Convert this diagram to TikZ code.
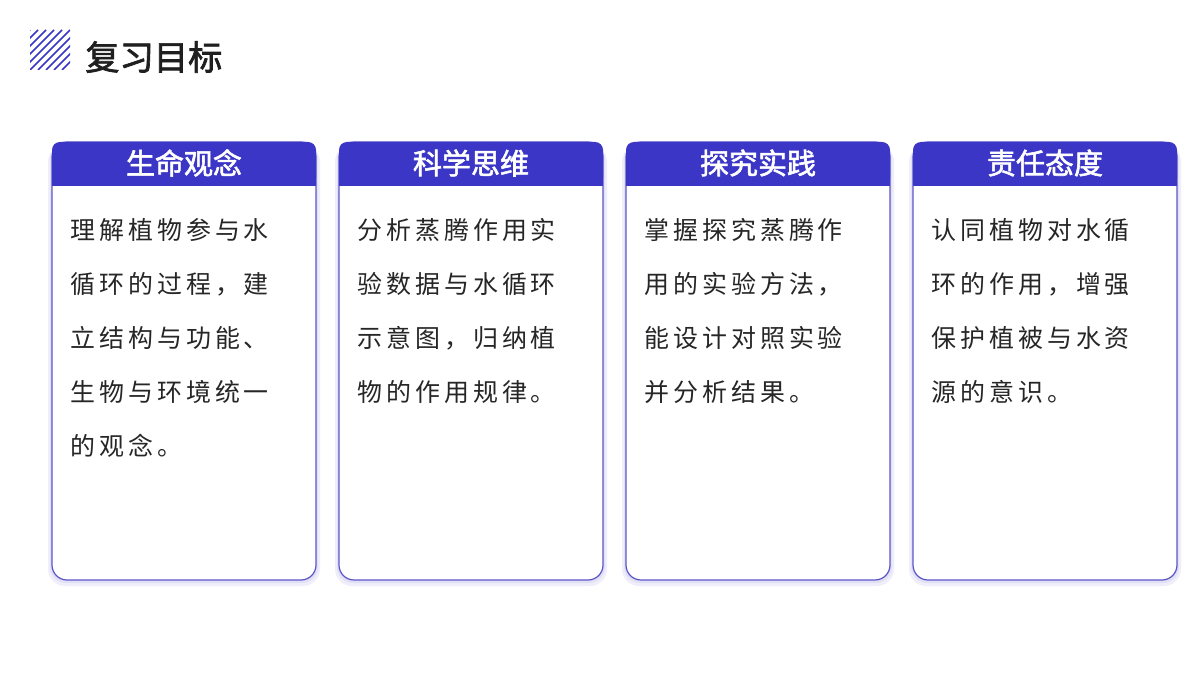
\documentclass[tikz,border=0pt]{standalone}
\usepackage{fontspec}
\setmainfont{Noto Sans CJK SC}
\newfontfamily\cjkb{Noto Sans CJK SC}[FakeBold=2]
\newfontfamily\cjkbody{Noto Sans CJK SC}[LetterSpace=16]
\definecolor{mainblue}{HTML}{3B36C6}
\definecolor{edge}{HTML}{5C55C8}
\tikzset{
 card/.style={draw=edge,line width=0.7pt,fill=white,rounded corners=0.3cm},
 shade1/.style={fill=edge!10,rounded corners=0.34cm},
 shade2/.style={fill=edge!18,rounded corners=0.32cm},
 head/.style={fill=mainblue},
 htext/.style={text=white,font=\cjkb\fontsize{16.5pt}{18pt}\selectfont},
 btext/.style={anchor=north west,align=left,inner sep=0pt,font=\cjkbody\fontsize{14.2pt}{30.7pt}\selectfont,text=black!85}
}
\begin{document}
\begin{tikzpicture}[x=0.02cm,y=-0.02cm]
\useasboundingbox (0,0) rectangle (1200,675);
\fill[white] (0,0) rectangle (1200,675);
% hatch icon
\begin{scope}
\clip (30,30) rectangle (70,70);
\foreach \i in {0,...,9}{\draw[mainblue,line width=0.9pt] (30+\i*8-40,70) -- (30+\i*8,30);}
\end{scope}
\node[anchor=west,inner sep=0pt,font=\cjkb\fontsize{19.5pt}{22pt}\selectfont,text=black!88] (title) at (85,57) {复习目标};
\foreach \x/\h/\t [count=\k] in {
 52/生命观念/{理解植物参与水\\循环的过程，建\\立结构与功能、\\生物与环境统一\\的观念。},
 339/科学思维/{分析蒸腾作用实\\验数据与水循环\\示意图，归纳植\\物的作用规律。},
 626/探究实践/{掌握探究蒸腾作\\用的实验方法，\\能设计对照实验\\并分析结果。},
 913/责任态度/{认同植物对水循\\环的作用，增强\\保护植被与水资\\源的意识。}}{
 \fill[shade1] (\x-4,145) rectangle (\x+268,586);
 \fill[shade2] (\x-2,144) rectangle (\x+266,583);
 \draw[card] (\x,142) rectangle (\x+264,580);
 \fill[head,rounded corners=0.16cm] (\x,186) -- (\x,142) -- (\x+264,142) -- (\x+264,186) [sharp corners] -- cycle;
 \fill[head] (\x,170) rectangle (\x+264,186);
 \node[htext] (h\k) at (\x+132,163) {\h};
 \node[btext] (b\k) at (\x+18,218) {\t};
}
\end{tikzpicture}
\end{document}
